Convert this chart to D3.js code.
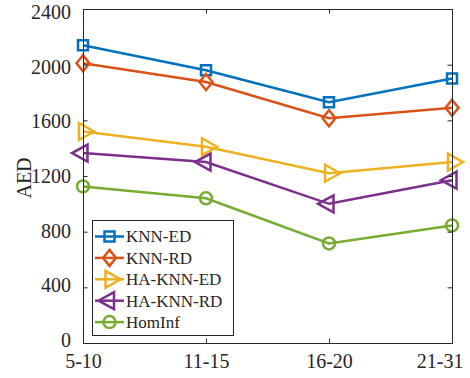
<!DOCTYPE html>
<html>
<head>
<meta charset="utf-8">
<script src="https://cdn.jsdelivr.net/npm/d3@7/dist/d3.min.js"></script>
<style>
  body { margin: 0; background: #fff; }
  svg { display: block; font-family: "Liberation Serif", "Times New Roman", serif; }
</style>
</head>
<body>
<svg id="chart" width="470" height="378"></svg>
<script>
const categories = ["5-10", "11-15", "16-20", "21-31"];
const yTicks = [0, 400, 800, 1200, 1600, 2000, 2400];

const knnED   = [2140, 1960, 1730, 1900];
const knnRD   = [2010, 1875, 1615, 1690];
const haKnnED = [1520, 1410, 1220, 1300];
const haKnnRD = [1365, 1300, 1000, 1170];
const homInf  = [1125, 1040, 715, 845];

const seriesNames = ["KNN-ED", "KNN-RD", "HA-KNN-ED", "HA-KNN-RD", "HomInf"];
const seriesColors = ["#0072BD", "#D95319", "#EDB120", "#7E2F8E", "#77AC30"];
const seriesMarkers = ["square", "diamond", "triRight", "triLeft", "circle"];
const seriesValues = [knnED, knnRD, haKnnED, haKnnRD, homInf];

const margin = { left: 83, top: 9, right: 18, bottom: 35 };
const width = 470, height = 378;
const axisColor = "#262626";

const svg = d3.select("#chart");

const x = d3.scalePoint()
    .domain(categories)
    .range([margin.left, width - margin.right]);

const y = d3.scaleLinear()
    .domain([0, 2400])
    .range([height - margin.bottom, margin.top]);

// marker shapes, centered on the point
function markerPath(type) {
    switch (type) {
        case "square": return "M-5,-5H5V5H-5Z";
        case "diamond": return "M0,-8L6.5,0L0,8L-6.5,0Z";
        case "triRight": return "M-4,-8.5L11,0L-4,8.5Z";
        case "triLeft": return "M4.5,-8.5L-11,0L4.5,8.5Z";
    }
}

function drawMarker(sel, type, color) {
    if (type === "circle") {
        sel.append("circle").attr("r", 6)
            .attr("fill", "none").attr("stroke", color).attr("stroke-width", 2.5);
    } else {
        sel.append("path").attr("d", markerPath(type))
            .attr("fill", "none").attr("stroke", color)
            .attr("stroke-width", 2.5).attr("stroke-linejoin", "miter");
    }
}

// series lines and markers
const line = d3.line()
    .x((d, i) => x(categories[i]))
    .y(d => y(d));

seriesValues.forEach((vals, s) => {
    const g = svg.append("g");
    g.append("path")
        .attr("d", line(vals))
        .attr("fill", "none")
        .attr("stroke", seriesColors[s])
        .attr("stroke-width", 2.5);
    vals.forEach((v, i) => {
        const m = g.append("g").attr("transform", `translate(${x(categories[i])},${y(v)})`);
        drawMarker(m, seriesMarkers[s], seriesColors[s]);
    });
});

// axes (box with inward ticks on all sides)
const bottomAxis = svg.append("g")
    .attr("transform", `translate(0,${height - margin.bottom})`)
    .call(d3.axisBottom(x).tickSizeInner(-4.5).tickSizeOuter(0).tickPadding(13));
const topAxis = svg.append("g")
    .attr("transform", `translate(0,${margin.top})`)
    .call(d3.axisTop(x).tickSizeInner(-4.5).tickSizeOuter(0).tickFormat(""));
const leftAxis = svg.append("g")
    .attr("transform", `translate(${margin.left},0)`)
    .call(d3.axisLeft(y).tickValues(yTicks).tickFormat(d3.format("d")).tickSizeInner(-4.5).tickSizeOuter(0).tickPadding(12));
const rightAxis = svg.append("g")
    .attr("transform", `translate(${width - margin.right},0)`)
    .call(d3.axisRight(y).tickValues(yTicks).tickSizeInner(-4.5).tickSizeOuter(0).tickFormat(""));

[bottomAxis, topAxis, leftAxis, rightAxis].forEach(a => {
    a.selectAll("path.domain").attr("stroke", axisColor).attr("stroke-width", 1);
    a.selectAll(".tick line").attr("stroke", axisColor).attr("stroke-width", 1);
    a.selectAll(".tick text")
        .attr("fill", axisColor)
        .style("font-family", "'Liberation Serif', 'Times New Roman', serif")
        .style("font-size", "20px");
});
bottomAxis.selectAll(".tick text").attr("dy", "0.6em");
// y labels sit a little inward at the ends, as in the original
leftAxis.selectAll(".tick text").attr("dy", "0.33em").attr("y", d => 3 - 6 * (1 - d / 2400));
// last category label is pulled inside the figure, like the original
bottomAxis.selectAll(".tick:last-of-type text").attr("text-anchor", "end").attr("x", 11);

// y label
svg.append("text")
    .attr("transform", `translate(31,${(margin.top + height - margin.bottom) / 2 + 2}) rotate(-90)`)
    .attr("text-anchor", "middle")
    .attr("fill", axisColor)
    .style("font-size", "20px")
    .text("AED");

// legend
const legend = svg.append("g");
legend.append("rect")
    .attr("x", 92.5).attr("y", 220.5)
    .attr("width", 141).attr("height", 115)
    .attr("fill", "#fff")
    .attr("stroke", axisColor).attr("stroke-width", 1);

seriesNames.forEach((name, s) => {
    const ly = 236.5 + s * 21.4;
    const row = legend.append("g").attr("transform", `translate(0,${ly})`);
    row.append("line")
        .attr("x1", 95).attr("x2", 124)
        .attr("stroke", seriesColors[s]).attr("stroke-width", 2.5);
    const m = row.append("g").attr("transform", "translate(109.5,0)");
    drawMarker(m, seriesMarkers[s], seriesColors[s]);
    row.append("text")
        .attr("x", 126)
        .attr("dy", "0.35em")
        .attr("fill", axisColor)
        .style("font-size", "17px")
        .text(name);
});
</script>
</body>
</html>
